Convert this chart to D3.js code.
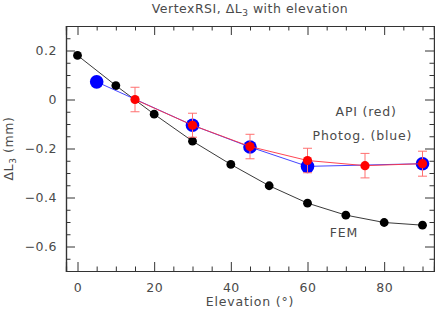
<!DOCTYPE html>
<html>
<head>
<meta charset="utf-8">
<script src="https://cdn.jsdelivr.net/npm/d3@7"></script>
<style>
  body { margin: 0; background: #fff; }
  svg text { font-family: "DejaVu Sans", sans-serif; fill: #4a4a4a; }
</style>
</head>
<body>
<svg width="435" height="310"></svg>
<script>
// FEM prediction (black)
const femElev = [0, 10, 20, 30, 40, 50, 60, 70, 80, 90];
const femVal = [0.18, 0.057, -0.06, -0.17, -0.265, -0.352, -0.423, -0.472, -0.502, -0.513];
// photogrammetry (blue)
const photoElev = [5, 30, 45, 60, 90];
const photoVal = [0.072, -0.105, -0.194, -0.273, -0.262];
// API (red) with error bars
const apiElev = [15, 30, 45, 60, 75, 90];
const apiVal = [0.0, -0.105, -0.192, -0.249, -0.27, -0.262];
const apiErr = [0.05, 0.049, 0.05, 0.05, 0.05, 0.051];

const xMajor = [0, 20, 40, 60, 80];
const yMajor = [-0.6, -0.4, -0.2, 0, 0.2];

const svg = d3.select("svg");
const m = { left: 66, right: 434, top: 26, bottom: 271 };

const x = d3.scaleLinear().domain([-3, 93]).range([m.left, m.right]);
const y = d3.scaleLinear().domain([-0.7, 0.3]).range([m.bottom, m.top]);

const axisColor = "#333";
const fmtY = (d) => (Math.abs(d) < 1e-9 ? "0" : d3.format(".1f")(d));

const xMinor = d3.range(0, 95, 5).filter((d) => d % 20 !== 0);
const yMinor = d3.range(-13, 6).filter((i) => i % 4 !== 0).map((i) => +(i * 0.05).toFixed(2));

const styleAxis = (g) => {
  g.select(".domain").attr("stroke", axisColor).attr("stroke-width", 1.2);
  g.selectAll(".tick line").attr("stroke", axisColor);
  g.selectAll("text").attr("font-size", 12.5).attr("fill", "#4a4a4a").attr("letter-spacing", 0.5);
};

// bottom
svg.append("g").attr("transform", `translate(0,${m.bottom})`)
  .call(d3.axisBottom(x).tickValues(xMajor).tickSize(-9).tickPadding(12).tickFormat(d3.format("d")))
  .call(styleAxis);
svg.append("g").attr("transform", `translate(0,${m.bottom})`)
  .call(d3.axisBottom(x).tickValues(xMinor).tickSize(-4.5).tickFormat(""))
  .call(styleAxis);
// top
svg.append("g").attr("transform", `translate(0,${m.top})`)
  .call(d3.axisTop(x).tickValues(xMajor).tickSize(-9).tickFormat(""))
  .call(styleAxis);
svg.append("g").attr("transform", `translate(0,${m.top})`)
  .call(d3.axisTop(x).tickValues(xMinor).tickSize(-4.5).tickFormat(""))
  .call(styleAxis);
// left
svg.append("g").attr("transform", `translate(${m.left},0)`)
  .call(d3.axisLeft(y).tickValues(yMajor).tickSize(-9).tickPadding(9).tickFormat(fmtY))
  .call(styleAxis);
svg.append("g").attr("transform", `translate(${m.left},0)`)
  .call(d3.axisLeft(y).tickValues(yMinor).tickSize(-4.5).tickFormat(""))
  .call(styleAxis);
// right
svg.append("g").attr("transform", `translate(${m.right},0)`)
  .call(d3.axisRight(y).tickValues(yMajor).tickSize(-9).tickFormat(""))
  .call(styleAxis);
svg.append("g").attr("transform", `translate(${m.right},0)`)
  .call(d3.axisRight(y).tickValues(yMinor).tickSize(-4.5).tickFormat(""))
  .call(styleAxis);

const line = d3.line().x((d) => x(d[0])).y((d) => y(d[1]));

// FEM
const fem = femElev.map((e, i) => [e, femVal[i]]);
svg.append("path").datum(fem).attr("d", line)
  .attr("fill", "none").attr("stroke", "#222").attr("stroke-width", 0.9);
svg.selectAll("circle.fem").data(fem).enter().append("circle")
  .attr("class", "fem")
  .attr("cx", (d) => x(d[0])).attr("cy", (d) => y(d[1]))
  .attr("r", 4.4).attr("fill", "#000");

// photogrammetry
const photo = photoElev.map((e, i) => [e, photoVal[i]]);
svg.append("path").datum(photo).attr("d", line)
  .attr("fill", "none").attr("stroke", "#3030ff").attr("stroke-width", 0.9);
svg.selectAll("circle.photo").data(photo).enter().append("circle")
  .attr("class", "photo")
  .attr("cx", (d) => x(d[0])).attr("cy", (d) => y(d[1]))
  .attr("r", 6.8).attr("fill", "#0000ff");

// API
const api = apiElev.map((e, i) => [e, apiVal[i], apiErr[i]]);
const eb = svg.append("g").attr("stroke", "#ff7070").attr("stroke-width", 1);
api.forEach((d) => {
  const cx = x(d[0]);
  const y1 = y(d[1] + d[2]);
  const y2 = y(d[1] - d[2]);
  eb.append("line").attr("x1", cx).attr("x2", cx).attr("y1", y1).attr("y2", y2);
  eb.append("line").attr("x1", cx - 4.5).attr("x2", cx + 4.5).attr("y1", y1).attr("y2", y1);
  eb.append("line").attr("x1", cx - 4.5).attr("x2", cx + 4.5).attr("y1", y2).attr("y2", y2);
});
svg.append("path").datum(api).attr("d", line)
  .attr("fill", "none").attr("stroke", "#ff3040").attr("stroke-width", 0.9);
svg.selectAll("circle.api").data(api).enter().append("circle")
  .attr("class", "api")
  .attr("cx", (d) => x(d[0])).attr("cy", (d) => y(d[1]))
  .attr("r", 4.6).attr("fill", "#ff0000");

// annotations
const note = (txt, xv, yv) =>
  svg.append("text").attr("x", x(xv)).attr("y", y(yv)).attr("dy", "0.35em")
    .attr("text-anchor", "middle").attr("font-size", 12.5).attr("letter-spacing", 0.8).text(txt);
note("API (red)", 75.3, -0.049);
note("Photog. (blue)", 74.3, -0.147);
note("FEM", 69.5, -0.543);

// title
const title = svg.append("text").attr("x", (m.left + m.right) / 2).attr("y", 13)
  .attr("text-anchor", "middle").attr("font-size", 12.5).attr("letter-spacing", 0.5);
title.append("tspan").text("VertexRSI, ΔL");
title.append("tspan").attr("font-size", 9).attr("dy", 3).text("3");
title.append("tspan").attr("dy", -3).text(" with elevation");

// x label
svg.append("text").attr("x", (m.left + m.right) / 2).attr("y", 306)
  .attr("text-anchor", "middle").attr("font-size", 12.5).attr("letter-spacing", 0.8).text("Elevation (°)");

// y label
const yl = svg.append("text")
  .attr("transform", `translate(13,${(m.top + m.bottom) / 2}) rotate(-90)`)
  .attr("text-anchor", "middle").attr("font-size", 12.5).attr("letter-spacing", 0.6);
yl.append("tspan").text("ΔL");
yl.append("tspan").attr("font-size", 9).attr("dy", 3).text("3");
yl.append("tspan").attr("dy", -3).text(" (mm)");
</script>
</body>
</html>
